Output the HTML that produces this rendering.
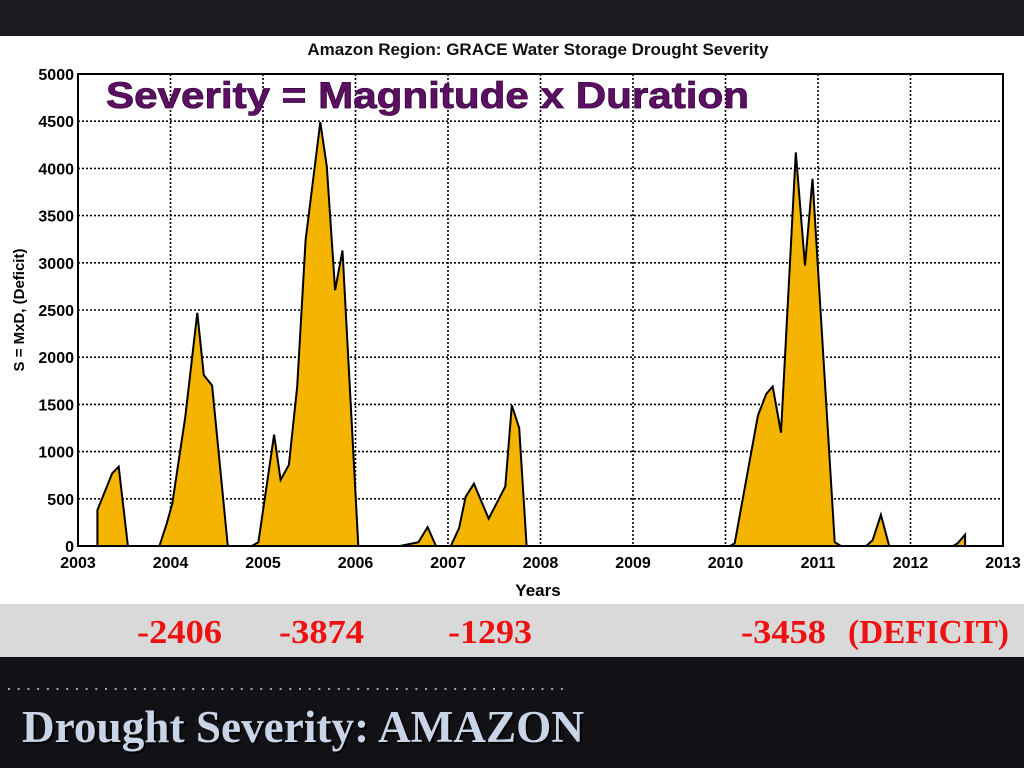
<!DOCTYPE html>
<html><head><meta charset="utf-8"><style>
html,body{margin:0;padding:0;width:1024px;height:768px;overflow:hidden;background:#14141a}
svg{display:block}
</style></head><body>
<svg width="1024" height="768" xmlns="http://www.w3.org/2000/svg" id="root">
  <rect x="0" y="0" width="1024" height="36" fill="#1b1b21"/>
  <rect x="0" y="36" width="1024" height="568" fill="#ffffff"/>
  <rect x="0" y="604" width="1024" height="53" fill="#d9d9d9"/>
  <rect x="0" y="657" width="1024" height="111" fill="#111116"/>
  <text x="538" y="55" text-anchor="middle" font-family="Liberation Sans, sans-serif" font-weight="bold" font-size="17" fill="#111">Amazon Region: GRACE Water Storage Drought Severity</text>
  <g id="grid"></g>
  <path id="area" fill="#f5b400" stroke="#000" stroke-width="2" stroke-linejoin="miter"/>
  <rect x="78" y="74" width="925" height="472" fill="none" stroke="#000" stroke-width="2"/>
  <g id="ticks" font-family="Liberation Sans, sans-serif" font-weight="bold" font-size="16" fill="#000"></g>
  <text x="538" y="596" text-anchor="middle" font-family="Liberation Sans, sans-serif" font-weight="bold" font-size="17">Years</text>
  <text transform="translate(24,310) rotate(-90)" text-anchor="middle" font-family="Liberation Sans, sans-serif" font-weight="bold" font-size="15">S = MxD, (Deficit)</text>
  <text x="106" y="108" font-family="Liberation Sans, sans-serif" font-weight="bold" font-size="37" fill="#5c0f63" textLength="643" lengthAdjust="spacingAndGlyphs" stroke="#3a0a40" stroke-width="0.8">Severity = Magnitude x Duration</text>
  <g font-family="Liberation Serif, serif" font-weight="bold" font-size="34" fill="#ee1111">
    <text x="137" y="643" textLength="85" lengthAdjust="spacingAndGlyphs">-2406</text>
    <text x="279" y="643" textLength="85" lengthAdjust="spacingAndGlyphs">-3874</text>
    <text x="448" y="643" textLength="84" lengthAdjust="spacingAndGlyphs">-1293</text>
    <text x="741" y="643" textLength="85" lengthAdjust="spacingAndGlyphs">-3458</text>
    <text x="848" y="643" textLength="161" lengthAdjust="spacingAndGlyphs">(DEFICIT)</text>
  </g>
  <line x1="8" y1="689" x2="570" y2="689" stroke="#9aa6c0" stroke-width="2" stroke-dasharray="2,7.7"/>
  <text x="24" y="744" font-family="Liberation Serif, serif" font-weight="bold" font-size="45" fill="#000" opacity="0.8" textLength="562" lengthAdjust="spacingAndGlyphs">Drought Severity: AMAZON</text>
  <text x="22" y="742" font-family="Liberation Serif, serif" font-weight="bold" font-size="45" fill="#c9d5e6" textLength="562" lengthAdjust="spacingAndGlyphs">Drought Severity: AMAZON</text>
</svg>
<script>
const years = [2003.21,2003.21,2003.37,2003.44,2003.54,2003.88,2003.96,2004.02,2004.16,2004.29,2004.36,2004.45,2004.62,
  2004.88,2004.95,2005.12,2005.19,2005.28,2005.37,2005.46,2005.62,2005.69,2005.78,2005.86,2006.03,
  2006.48,2006.68,2006.78,2006.87,
  2007.03,2007.12,2007.19,2007.28,2007.44,2007.62,2007.69,2007.77,2007.85,
  2010.05,2010.10,2010.35,2010.44,2010.51,2010.60,2010.76,2010.86,2010.94,2011.18,2011.25,
  2011.52,2011.59,2011.68,2011.77,
  2012.46,2012.51,2012.59,2012.59];
const severity = [0,380,770,840,0,0,240,450,1370,2470,1810,1700,0,
  0,40,1180,700,860,1690,3240,4490,4020,2710,3130,0,
  0,40,200,0,
  0,190,520,660,290,630,1490,1250,0,
  0,30,1380,1610,1690,1200,4170,2970,3890,40,0,
  0,60,330,0,
  0,30,120,0];
const xTicks = [2003,2004,2005,2006,2007,2008,2009,2010,2011,2012,2013];
const yTicks = [0,500,1000,1500,2000,2500,3000,3500,4000,4500,5000];

const X0=78,X1=1003,Y0=546,Y1=74;
const xs = v => X0 + (v-2003)/(2013-2003)*(X1-X0);
const ys = v => Y0 - v/5000*(Y0-Y1);
const NS="http://www.w3.org/2000/svg";
const grid=document.getElementById('grid'), ticks=document.getElementById('ticks');
xTicks.forEach(t=>{
  const x=xs(t);
  if(t>2003&&t<2013){
    const l=document.createElementNS(NS,'line');
    l.setAttribute('x1',x);l.setAttribute('x2',x);l.setAttribute('y1',Y1);l.setAttribute('y2',Y0);
    l.setAttribute('stroke','#000');l.setAttribute('stroke-width','1.6');l.setAttribute('stroke-dasharray','2,2');
    
    
    grid.appendChild(l);
  }
  const tx=document.createElementNS(NS,'text');
  tx.setAttribute('x',x);tx.setAttribute('y',568);tx.setAttribute('text-anchor','middle');
  tx.textContent=t;
  
  
  ticks.appendChild(tx);
});
yTicks.forEach(t=>{
  const y=ys(t);
  if(t>0&&t<5000){
    const l=document.createElementNS(NS,'line');
    l.setAttribute('x1',X0);l.setAttribute('x2',X1);l.setAttribute('y1',y);l.setAttribute('y2',y);
    l.setAttribute('stroke','#000');l.setAttribute('stroke-width','1.6');l.setAttribute('stroke-dasharray','2,2');
    
    
    grid.appendChild(l);
  }
  const tx=document.createElementNS(NS,'text');
  tx.setAttribute('x',74);tx.setAttribute('y',y+6);tx.setAttribute('text-anchor','end');
  tx.textContent=t;
  
  
  ticks.appendChild(tx);
});
let d='';
years.forEach((yr,i)=>{ d+=(i?'L':'M')+xs(yr).toFixed(1)+','+ys(severity[i]).toFixed(1); });
d+='Z';
document.getElementById('area').setAttribute('d',d);
</script>
</body></html>
